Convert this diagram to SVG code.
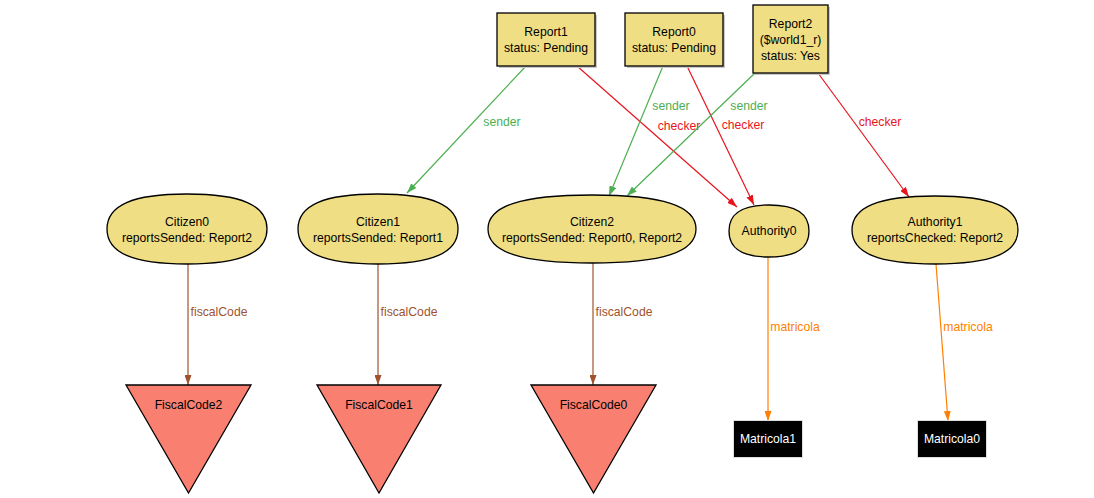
<svg xmlns="http://www.w3.org/2000/svg" width="1094" height="498" viewBox="0 0 1094 498">
<style>
text{font-family:"Liberation Sans",Arial,sans-serif;font-size:12.2px;text-anchor:middle}
.n{fill:#f0de84;stroke:#000;stroke-width:1.3}
.sh{fill:#c8c8c8}
.t{fill:#f98070;stroke:#000;stroke-width:1.3}
.m{fill:#000;stroke:#ddd;stroke-width:1}
.mt{fill:#fff}
.e{fill:none;stroke-width:1.2}
.g{stroke:#4caf50}.gt{fill:#4caf50}
.r{stroke:#e8141c}.rt{fill:#e8141c}
.b{stroke:#a0522d}.bt{fill:#a0522d}
.o{stroke:#ff8000}.ot{fill:#ff8000}
</style>
<defs>
<marker id="ag" markerWidth="10" markerHeight="7" refX="10" refY="3.5" orient="auto" markerUnits="userSpaceOnUse"><path d="M0,0L10,3.5L0,7z" fill="#4caf50"/></marker>
<marker id="ar" markerWidth="10" markerHeight="7" refX="10" refY="3.5" orient="auto" markerUnits="userSpaceOnUse"><path d="M0,0L10,3.5L0,7z" fill="#e8141c"/></marker>
<marker id="ab" markerWidth="10" markerHeight="7" refX="10" refY="3.5" orient="auto" markerUnits="userSpaceOnUse"><path d="M0,0L10,3.5L0,7z" fill="#a0522d"/></marker>
<marker id="ao" markerWidth="10" markerHeight="7" refX="10" refY="3.5" orient="auto" markerUnits="userSpaceOnUse"><path d="M0,0L10,3.5L0,7z" fill="#ff8000"/></marker>
</defs>
<rect width="1094" height="498" fill="#fff"/>
<g id="connectors">
<line class="e g" x1="526" y1="66" x2="407" y2="193" marker-end="url(#ag)"/>
<text class="gt" x="502" y="126">sender</text>
<line class="e r" x1="577" y1="66" x2="737" y2="207" marker-end="url(#ar)"/>
<text class="rt" x="679" y="130">checker</text>
<line class="e g" x1="663" y1="66" x2="609" y2="196" marker-end="url(#ag)"/>
<text class="gt" x="671" y="110">sender</text>
<line class="e r" x1="687" y1="66" x2="754" y2="205" marker-end="url(#ar)"/>
<text class="rt" x="743" y="129">checker</text>
<line class="e g" x1="755" y1="73" x2="627" y2="196" marker-end="url(#ag)"/>
<text class="gt" x="749" y="110">sender</text>
<line class="e r" x1="818" y1="73" x2="909" y2="197" marker-end="url(#ar)"/>
<text class="rt" x="880" y="126">checker</text>
<line class="e b" x1="188" y1="264" x2="188" y2="385" marker-end="url(#ab)"/>
<text class="bt" x="219" y="316">fiscalCode</text>
<line class="e b" x1="378" y1="264" x2="378" y2="385" marker-end="url(#ab)"/>
<text class="bt" x="409" y="316">fiscalCode</text>
<line class="e b" x1="593" y1="263" x2="593" y2="385" marker-end="url(#ab)"/>
<text class="bt" x="624" y="316">fiscalCode</text>
<line class="e o" x1="768" y1="257" x2="768" y2="421" marker-end="url(#ao)"/>
<text class="ot" x="795" y="331">matricola</text>
<line class="e o" x1="936" y1="264" x2="948" y2="421" marker-end="url(#ao)"/>
<text class="ot" x="968" y="331">matricola</text>
</g>
<g id="Report1">
<rect class="sh" x="499" y="15" width="98" height="53"/>
<rect class="n" x="497" y="13" width="98" height="53"/>
<text x="546" y="36">Report1</text><text x="546" y="52">status: Pending</text>
</g>
<g id="Report0">
<rect class="sh" x="627" y="15" width="98" height="53"/>
<rect class="n" x="625" y="13" width="98" height="53"/>
<text x="674" y="36">Report0</text><text x="674" y="52">status: Pending</text>
</g>
<g id="Report2">
<rect class="sh" x="755" y="7" width="75" height="68"/>
<rect class="n" x="753" y="5" width="75" height="68"/>
<text x="790.5" y="28">Report2</text><text x="790.5" y="44">($world1_r)</text><text x="790.5" y="60">status: Yes</text>
</g>
<g id="Citizen0">
<path class="n" d="M107,229 C107,205.2 132.6,194 187,194 C241.4,194 267,205.2 267,229 C267,252.8 241.4,264 187,264 C132.6,264 107,252.8 107,229z"/>
<text x="187" y="226">Citizen0</text><text x="187" y="242">reportsSended: Report2</text>
</g>
<g id="Citizen1">
<path class="n" d="M298,229 C298,205.2 323.6,194 378,194 C432.4,194 458,205.2 458,229 C458,252.8 432.4,264 378,264 C323.6,264 298,252.8 298,229z"/>
<text x="378" y="226">Citizen1</text><text x="378" y="242">reportsSended: Report1</text>
</g>
<g id="Citizen2">
<path class="n" d="M488,229 C488,205.9 521.3,195 592,195 C662.7,195 696,205.9 696,229 C696,252.1 662.7,263 592,263 C521.3,263 488,252.1 488,229z"/>
<text x="592" y="226">Citizen2</text><text x="592" y="242">reportsSended: Report0, Report2</text>
</g>
<g id="Authority0">
<path class="n" d="M729,231 C729,213.3 741.8,205 769,205 C796.2,205 809,213.3 809,231 C809,248.7 796.2,257 769,257 C741.8,257 729,248.7 729,231z"/>
<text x="769" y="235">Authority0</text>
</g>
<g id="Authority1">
<path class="n" d="M852,230 C852,206.9 878.6,196 935,196 C991.4,196 1018,206.9 1018,230 C1018,253.1 991.4,264 935,264 C878.6,264 852,253.1 852,230z"/>
<text x="935" y="226">Authority1</text><text x="935" y="242">reportsChecked: Report2</text>
</g>
<g id="FiscalCode2">
<polygon class="t" points="126,385 251,385 188.5,493"/>
<text x="188.5" y="409">FiscalCode2</text>
</g>
<g id="FiscalCode1">
<polygon class="t" points="317,385 441,385 379,493"/>
<text x="379" y="409">FiscalCode1</text>
</g>
<g id="FiscalCode0">
<polygon class="t" points="531,385 656,385 593.5,493"/>
<text x="593.5" y="409">FiscalCode0</text>
</g>
<g id="Matricola1">
<rect class="m" x="733.5" y="420.5" width="69" height="37"/>
<text class="mt" x="768" y="443">Matricola1</text>
</g>
<g id="Matricola0">
<rect class="m" x="917.5" y="420.5" width="69" height="37"/>
<text class="mt" x="952" y="443">Matricola0</text>
</g>
</svg>
